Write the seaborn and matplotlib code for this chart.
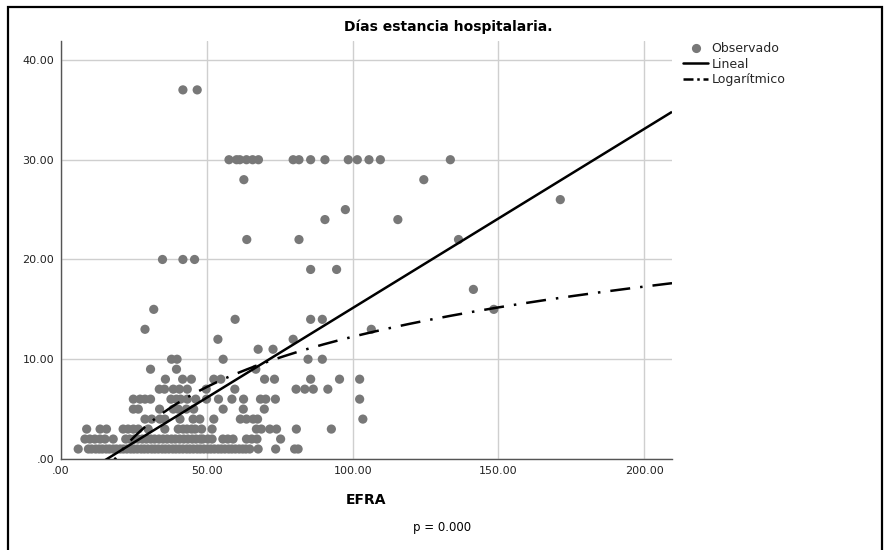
import numpy as np
import pandas as pd
import matplotlib
matplotlib.use("Agg")
import matplotlib.pyplot as plt
from matplotlib.lines import Line2D
from matplotlib.patches import Rectangle
import seaborn as sns

# ---------------- data ----------------
title = "Días estancia hospitalaria."
x_label = "EFRA"
footnote = "p = 0.000"
legend_labels = ["Observado", "Lineal", "Logarítmico"]
x_ticks = [0, 50, 100, 150, 200]
x_tick_labels = [".00", "50.00", "100.00", "150.00", "200.00"]
y_ticks = [0, 10, 20, 30, 40]
y_tick_labels = [".00", "10.00", "20.00", "30.00", "40.00"]

# EFRA values of the observations, grouped by "días" (hospital days)
efra_d1 = [5.9, 9.4, 10.5, 11.9, 13.1, 14.2, 15.5, 16.6, 17.9, 19.0, 20.3, 21.4,
           22.6, 23.9, 25.0, 26.2, 27.5, 28.6, 29.8, 31.1, 32.2, 33.4, 34.7, 35.8,
           37.0, 38.3, 39.4, 40.6, 41.8, 43.1, 44.2, 45.4, 46.7, 47.8, 49.0, 50.3,
           51.4, 52.6, 53.9, 55.0, 56.2, 57.5, 58.6, 59.8, 61.1, 62.3, 63.4, 64.7,
           67.6, 73.6, 80.1, 81.3]
efra_d2 = [8.2, 9.9, 11.6, 13.4, 15.1, 17.9, 22.2, 23.6, 25.1, 26.4, 27.9, 29.3,
           30.8, 32.1, 33.6, 35.0, 36.4, 37.9, 39.2, 40.7, 42.1, 43.5, 45.0, 46.3,
           47.8, 48.6, 50.4, 51.8, 55.5, 57.2, 59.0, 63.6, 65.4, 67.2, 75.3]
efra_d3 = [8.8, 13.4, 15.6, 21.3, 23.0, 24.8, 26.5, 29.9, 35.6, 40.2, 41.9, 43.2,
           44.8, 46.0, 48.2, 51.8, 67.0, 68.7, 71.6, 73.9, 80.7, 92.7]
efra_d4 = [28.8, 31.1, 33.9, 35.6, 40.8, 45.3, 47.6, 52.4, 61.5, 63.6, 65.9, 67.4, 103.5]
efra_d5 = [24.8, 26.5, 33.8, 38.5, 40.2, 43.0, 45.5, 55.6, 62.5, 69.7]
efra_d6 = [24.8, 27.1, 28.8, 30.7, 37.7, 39.6, 41.0, 43.3, 46.2, 49.9, 54.0, 58.6,
           62.6, 68.4, 70.2, 73.5, 102.4]
efra_d7 = [33.7, 35.5, 38.5, 40.6, 43.3, 49.8, 59.6, 80.6, 83.6, 86.5, 91.5]
efra_d8 = [35.8, 41.7, 44.7, 52.4, 54.8, 69.8, 73.2, 85.6, 95.5, 102.4]
efra_d9 = [30.7, 39.6, 66.8]
efra_d10 = [37.9, 39.8, 55.6, 84.7, 89.6]
efra_d11 = [67.6, 72.7]
efra_d12 = [53.8, 79.6]
efra_d13 = [28.8, 106.4]
efra_d14 = [59.7, 85.6, 89.6]
efra_d15 = [31.8, 148.4]
efra_d17 = [141.4]
efra_d19 = [85.6, 94.5]
efra_d20 = [34.8, 41.8, 45.8]
efra_d22 = [63.7, 81.6, 136.3]
efra_d24 = [90.5, 115.5]
efra_d25 = [97.5]
efra_d26 = [171.2]
efra_d28 = [62.7, 124.4]
efra_d30 = [57.6, 60.2, 61.3, 63.6, 65.7, 67.7, 79.6, 81.6, 85.6, 90.5, 98.5,
            101.6, 105.6, 109.5, 133.5]
efra_d37 = [41.8, 46.7]

day_levels = [1, 2, 3, 4, 5, 6, 7, 8, 9, 10, 11, 12, 13, 14, 15, 17, 19, 20,
              22, 24, 25, 26, 28, 30, 37]
efra_groups = [efra_d1, efra_d2, efra_d3, efra_d4, efra_d5, efra_d6, efra_d7,
               efra_d8, efra_d9, efra_d10, efra_d11, efra_d12, efra_d13, efra_d14,
               efra_d15, efra_d17, efra_d19, efra_d20, efra_d22, efra_d24,
               efra_d25, efra_d26, efra_d28, efra_d30, efra_d37]

# fitted curves (coefficients)
lin_intercept = -2.83
lin_slope = 0.1796
log_const = -21.18
log_coef = 7.26

# ---------------- build table ----------------
rows = [(x, d) for d, xs in zip(day_levels, efra_groups) for x in xs]
df = pd.DataFrame(rows, columns=["EFRA", "Dias"])

x_min, x_max = 0, 209.5
y_min, y_max = 0, 41.9

xl = np.linspace(x_min, x_max, 200)
yl = lin_intercept + lin_slope * xl
xg = np.linspace(15.0, x_max, 400)
yg = log_const + log_coef * np.log(xg)

# ---------------- figure ----------------
sns.set_style("white")
plt.rcParams["font.family"] = ["DejaVu Sans"]

fig = plt.figure(figsize=(8.85, 5.5), dpi=100)
ax = fig.add_axes([61 / 885, 1 - 459 / 550, (672 - 61) / 885, (459 - 41) / 550])

point_color = "#787878"
sns.scatterplot(data=df, x="EFRA", y="Dias", ax=ax, color=point_color, s=44,
                edgecolor="none", linewidth=0, zorder=3, legend=False)
ax.plot(xl, yl, color="black", lw=1.8, zorder=4, solid_capstyle="butt")
ax.plot(xg, yg, color="black", lw=1.8, zorder=4,
        linestyle=(0, (8, 4, 1, 4)), dash_capstyle="butt")

ax.set_xlim(x_min, x_max)
ax.set_ylim(y_min, y_max)
ax.set_xticks(x_ticks)
ax.set_xticklabels(x_tick_labels)
ax.set_yticks(y_ticks)
ax.set_yticklabels(y_tick_labels)
ax.tick_params(axis="both", length=0, labelsize=8, colors="#222222")
ax.tick_params(axis="x", pad=5)
ax.tick_params(axis="y", pad=5)
ax.grid(True, color="#cfcfcf", lw=1.0, zorder=0)
ax.set_axisbelow(True)
for side in ["top", "right"]:
    ax.spines[side].set_visible(False)
for side in ["left", "bottom"]:
    ax.spines[side].set_color("#555555")
    ax.spines[side].set_linewidth(1.0)
ax.set_xlabel("")
ax.set_ylabel("")

fig.text(448 / 885, 1 - 27 / 550, title, ha="center", va="center",
         fontsize=10, fontweight="bold", color="black")
fig.text(366 / 885, 1 - 500 / 550, x_label, ha="center", va="center",
         fontsize=10, fontweight="bold", color="black")
fig.text(442 / 885, 1 - 527 / 550, footnote, ha="center", va="center",
         fontsize=8.5, color="black")

handles = [
    Line2D([], [], marker="o", color=point_color, linestyle="none", markersize=6.6,
           markeredgewidth=0),
    Line2D([], [], color="black", lw=1.8),
    Line2D([], [], color="black", lw=1.8, linestyle=(0, (4, 1.5, 1, 1.5))),
]
ax.legend(handles, legend_labels, loc="upper left",
          bbox_to_anchor=(683 / 885, 1 - 42 / 550), bbox_transform=fig.transFigure,
          frameon=False, fontsize=9, handlelength=2.0, handletextpad=0.3,
          labelspacing=0.2, borderpad=0, borderaxespad=0)

# outer frame
frame = Rectangle((8 / 885, -0.05), (882 - 8) / 885, 1.05 - 7 / 550,
                  transform=fig.transFigure, fill=False, edgecolor="black",
                  lw=1.6, clip_on=False)
fig.patches.append(frame)

fig.savefig("out.png", dpi=100)
